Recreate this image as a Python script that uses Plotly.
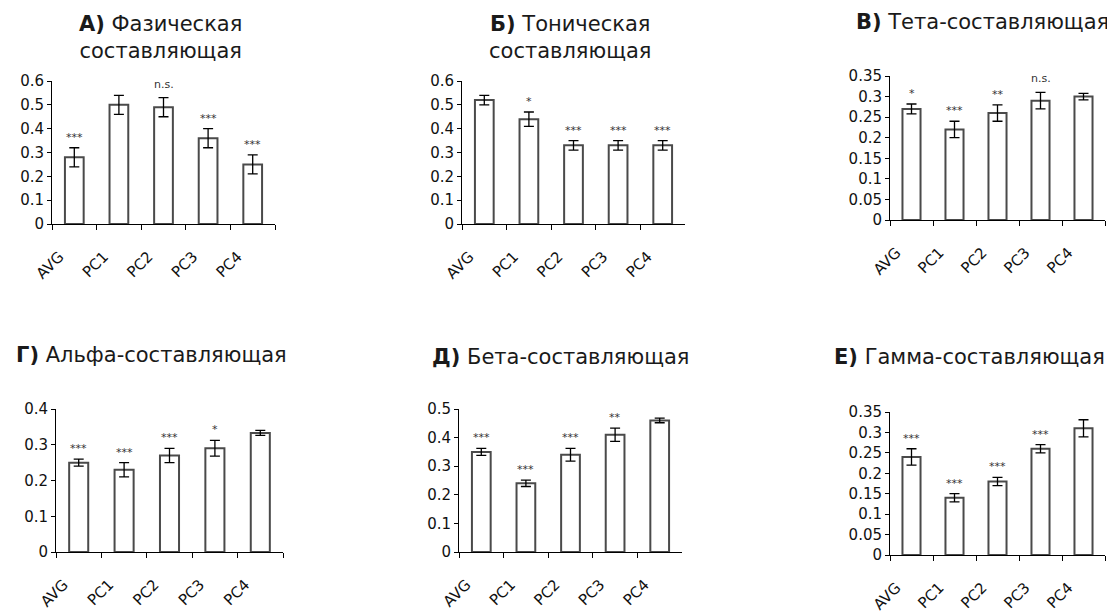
import plotly.graph_objects as go

# the page adds an 8px body margin, so the figure is drawn 8px in from the corner
OFF = 8
W, H = 1115 - OFF, 613 - OFF

categories = ["AVG", "PC1", "PC2", "PC3", "PC4"]

a_vals = [0.28, 0.50, 0.49, 0.36, 0.25]
a_err = [0.04, 0.04, 0.04, 0.04, 0.04]
a_sig = ["***", "", "n.s.", "***", "***"]

b_vals = [0.52, 0.44, 0.33, 0.33, 0.33]
b_err = [0.02, 0.03, 0.02, 0.02, 0.02]
b_sig = ["", "*", "***", "***", "***"]

v_vals = [0.27, 0.22, 0.26, 0.29, 0.30]
v_err = [0.012, 0.02, 0.02, 0.02, 0.008]
v_sig = ["*", "***", "**", "n.s.", ""]

g_vals = [0.25, 0.23, 0.27, 0.29, 0.333]
g_err = [0.01, 0.02, 0.02, 0.022, 0.007]
g_sig = ["***", "***", "***", "*", ""]

d_vals = [0.35, 0.24, 0.34, 0.41, 0.46]
d_err = [0.012, 0.011, 0.022, 0.023, 0.008]
d_sig = ["***", "***", "***", "**", ""]

e_vals = [0.24, 0.14, 0.18, 0.26, 0.31]
e_err = [0.02, 0.01, 0.01, 0.01, 0.021]
e_sig = ["***", "***", "***", "***", ""]

titles = [
    "<b>А)</b> Фазическая<br>составляющая",
    "<b>Б)</b> Тоническая<br>составляющая",
    "<b>В)</b> Тета-составляющая",
    "<b>Г)</b> Альфа-составляющая",
    "<b>Д)</b> Бета-составляющая",
    "<b>Е)</b> Гамма-составляющая",
]
y_max = [0.6, 0.6, 0.35, 0.4, 0.5, 0.35]
y_step = [0.1, 0.1, 0.05, 0.1, 0.1, 0.05]

panels = [
    (a_vals, a_err, a_sig),
    (b_vals, b_err, b_sig),
    (v_vals, v_err, v_sig),
    (g_vals, g_err, g_sig),
    (d_vals, d_err, d_sig),
    (e_vals, e_err, e_sig),
]

# plot-area boxes in page pixels: (left, right, top, bottom)
boxes = [
    (52, 275, 81, 224),
    (462, 685, 81, 224),
    (890, 1105, 76, 220),
    (56, 283, 409, 552),
    (459, 682, 409, 552),
    (890, 1105, 412, 555),
]
# title centres in page pixels: (x, y)
title_pos = [
    (160, 37.5),
    (570, 37.5),
    (982, 22),
    (151, 355),
    (560, 357),
    (969, 357),
]


def px(x):
    return (x - OFF) / W


def py(y):
    return 1 - (y - OFF) / H


FONT = "DejaVu Sans, Liberation Sans, Arial, sans-serif"

fig = go.Figure()
annotations = []
layout = {}

for i, ((vals, errs, sigs), (l, r, t, b)) in enumerate(zip(panels, boxes)):
    n = "" if i == 0 else str(i + 1)
    xa, ya = "x" + n, "y" + n
    fig.add_trace(go.Bar(
        x=categories, y=vals,
        xaxis=xa, yaxis=ya,
        width=0.42,
        marker=dict(color="white", line=dict(color="#4a4a4a", width=2)),
        error_y=dict(type="data", array=errs, visible=True,
                     color="black", thickness=1.3, width=5),
        showlegend=False, hoverinfo="skip",
    ))
    layout["xaxis" + n] = dict(
        domain=[px(l), px(r)], anchor=ya,
        type="category", range=[-0.5, 4.5], automargin=False,
        showline=True, linecolor="black", linewidth=1,
        ticks="outside", ticklen=5, tickcolor="black", tickwidth=1,
        tickson="boundaries", tickangle=-45,
        ticklabelstandoff=17, ticklabelshift=-15,
        tickfont=dict(family=FONT, size=15, color="#111"),
        showgrid=False, zeroline=False, fixedrange=True,
    )
    layout["yaxis" + n] = dict(
        domain=[py(b), py(t)], anchor=xa,
        range=[0, y_max[i]], dtick=y_step[i], tick0=0, automargin=False,
        showline=True, linecolor="black", linewidth=1,
        ticks="outside", ticklen=4, tickcolor="black", tickwidth=1,
        tickfont=dict(family=FONT, size=15, color="#111"),
        showgrid=False, zeroline=False, fixedrange=True,
    )
    for c, v, e, s in zip(categories, vals, errs, sigs):
        if s:
            annotations.append(dict(
                x=c, y=v + e, xref=xa, yref=ya,
                text=s, showarrow=False, yanchor="bottom",
                yshift=2 if "*" in s else 5,
                font=dict(family=FONT, size=11, color="#333"),
            ))
    tx, ty = title_pos[i]
    annotations.append(dict(
        x=px(tx), y=py(ty), xref="paper", yref="paper",
        text=titles[i], showarrow=False, xanchor="center", yanchor="middle",
        font=dict(family=FONT, size=21, color="#1a1a1a"),
    ))

fig.update_layout(
    width=W, height=H,
    margin=dict(l=0, r=0, t=0, b=0),
    paper_bgcolor="white", plot_bgcolor="white",
    annotations=annotations,
    **layout,
)

fig.write_html("out.html")
